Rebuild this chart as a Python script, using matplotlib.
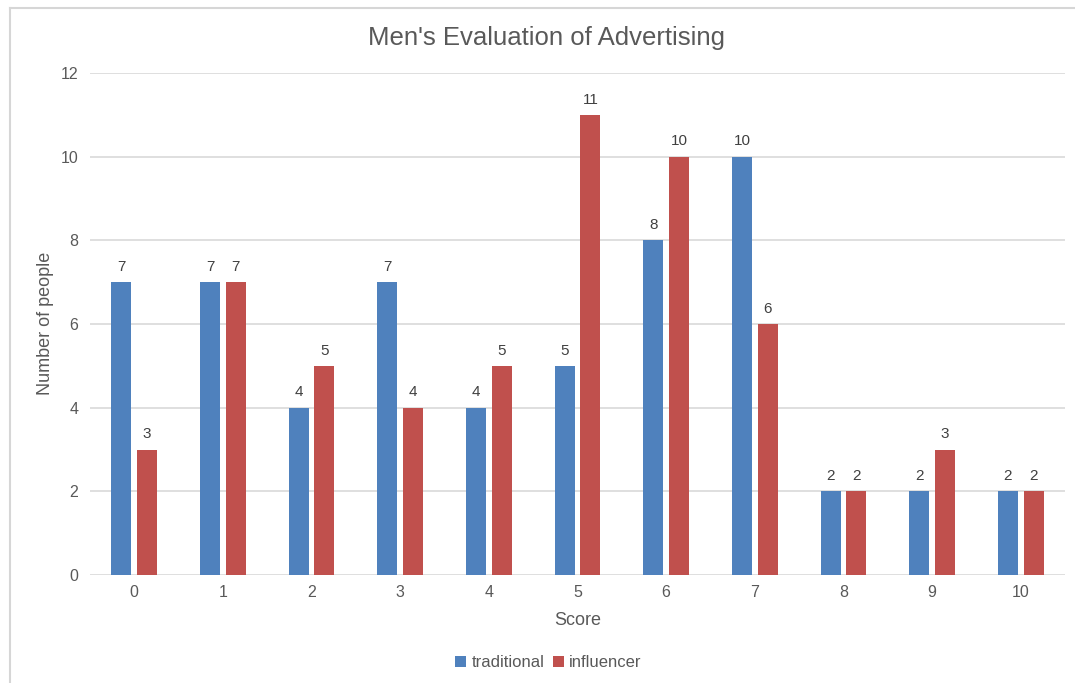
import numpy as np
import matplotlib.pyplot as plt
from matplotlib.lines import Line2D

plt.rcParams['font.family'] = ['Liberation Sans', 'DejaVu Sans']

scores = [str(s) for s in range(11)]
traditional = [7, 7, 4, 7, 4, 5, 8, 10, 2, 2, 2]
influencer = [3, 7, 5, 4, 5, 11, 10, 6, 2, 3, 2]

blue = '#4F81BD'
red = '#C0504D'
grey_txt = '#595959'

fig = plt.figure(figsize=(10.75, 6.83), dpi=100)
ax = fig.add_axes([0.0837, 0.1581, 0.907, 0.735])

x = np.arange(len(scores))
w = 0.225
b1 = ax.bar(x - 0.145, traditional, w, color=blue, label='traditional', zorder=3)
b2 = ax.bar(x + 0.145, influencer, w, color=red, label='influencer', zorder=3)

for bars, vals in ((b1, traditional), (b2, influencer)):
    for r, v in zip(bars, vals):
        ax.annotate(str(v), (r.get_x() + r.get_width() / 2, v), xytext=(0, 6),
                    textcoords='offset points', ha='center', va='bottom',
                    fontsize=11, color='#404040')

ax.set_xlim(-0.5, 10.5)
ax.set_ylim(0, 12)
ax.set_yticks(range(0, 13, 2))
ax.set_xticks(x)
ax.set_xticklabels(scores)
ax.grid(axis='y', color='#D9D9D9', linewidth=1.2, zorder=0)
for s in ax.spines.values():
    s.set_visible(False)
ax.tick_params(length=0, labelsize=11.5, colors=grey_txt)
ax.tick_params(axis='x', pad=7)
ax.tick_params(axis='y', pad=8.5)

ax.set_xlabel('Score', fontsize=13, color=grey_txt, labelpad=9)
fig.text(45 / 1075, 1 - 323 / 683, 'Number of people', rotation=90, ha='center', va='center',
         fontsize=13, color=grey_txt)
fig.text(547 / 1075, 1 - 38 / 683, "Men's Evaluation of Advertising", ha='center', va='center',
         fontsize=18.5, color=grey_txt)

ax.legend(loc='center', bbox_to_anchor=(0.470, -0.175), ncol=2,
          frameon=False, fontsize=12, labelcolor=grey_txt, handlelength=0.7, handleheight=0.7,
          handletextpad=0.3, columnspacing=0.5)

# outer chart frame
fig.add_artist(Line2D([10 / 1075, 1.0], [1 - 8 / 683, 1 - 8 / 683], color='#D6D6D6', lw=1.5,
                      transform=fig.transFigure))
fig.add_artist(Line2D([10 / 1075, 10 / 1075], [0, 1 - 8 / 683], color='#D6D6D6', lw=1.5,
                      transform=fig.transFigure))

fig.savefig('out.png', dpi=100)
